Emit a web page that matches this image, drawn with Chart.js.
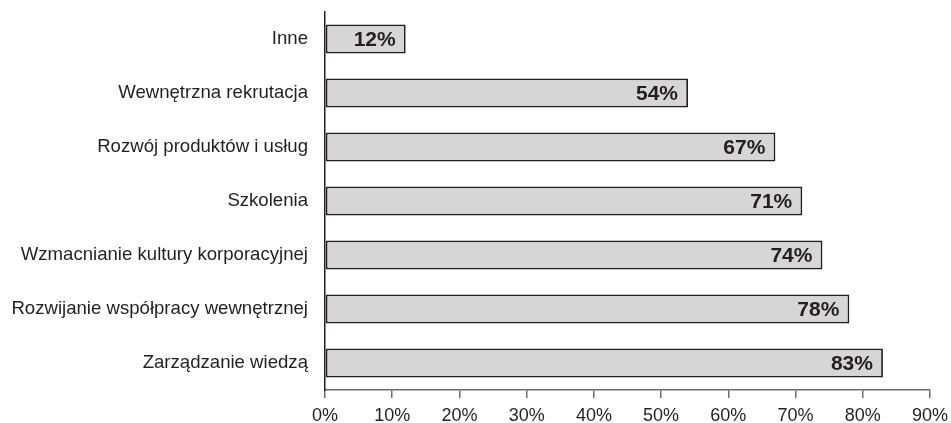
<!DOCTYPE html>
<html>
<head>
<meta charset="utf-8">
<script src="https://cdn.jsdelivr.net/npm/chart.js@4"></script>
<style>
  html, body { margin: 0; padding: 0; background: #fff; }
  #wrap { width: 951px; height: 423px; }
</style>
</head>
<body>
<div id="wrap"><canvas id="chart"></canvas></div>
<script>
const categories = [
  "Inne",
  "Wewnętrzna rekrutacja",
  "Rozwój produktów i usług",
  "Szkolenia",
  "Wzmacnianie kultury korporacyjnej",
  "Rozwijanie współpracy wewnętrznej",
  "Zarządzanie wiedzą"
];
const shares = [12, 54, 67, 71, 74, 78, 83];
const xTicks = [0, 10, 20, 30, 40, 50, 60, 70, 80, 90];

// percent labels at the inner end of each bar
const barLabels = {
  id: "barLabels",
  afterDatasetsDraw(chart) {
    const ctx = chart.ctx;
    const meta = chart.getDatasetMeta(0);
    ctx.save();
    ctx.font = "bold 21px 'Liberation Sans', Arial, sans-serif";
    ctx.fillStyle = "#231f20";
    ctx.textAlign = "right";
    ctx.textBaseline = "middle";
    meta.data.forEach((bar, i) => {
      ctx.fillText(shares[i] + "%", bar.x - 10, bar.y + 1);
    });
    ctx.restore();
  }
};

Chart.defaults.font.family = "'Liberation Sans', Arial, sans-serif";
Chart.defaults.font.size = 18;
Chart.defaults.color = "#231f20";

new Chart(document.getElementById("chart"), {
  type: "bar",
  data: {
    labels: categories,
    datasets: [{
      data: shares,
      backgroundColor: "#d6d6d6",
      borderColor: "#231f20",
      borderWidth: 1.8,
      borderSkipped: false,
      barPercentage: 0.54,
      categoryPercentage: 1
    }]
  },
  options: {
    indexAxis: "y",
    responsive: true,
    maintainAspectRatio: false,
    animation: false,
    layout: { padding: { top: 12, right: 21, bottom: 0, left: 0 } },
    plugins: {
      legend: { display: false },
      tooltip: { enabled: false }
    },
    scales: {
      x: {
        min: 0,
        max: 90,
        afterBuildTicks(scale) {
          scale.ticks = xTicks.map(v => ({ value: v }));
        },
        afterFit(scale) {
          scale.height = 33;
          scale.paddingLeft = 0;
          scale.paddingRight = 0;
        },
        ticks: {
          callback: v => v + "%",
          padding: 7,
          maxRotation: 0
        },
        grid: {
          drawOnChartArea: false,
          drawTicks: true,
          tickLength: 8,
          color: "#6d6d6d",
          lineWidth: 1.5
        },
        border: { color: "#6d6d6d", width: 1.5 }
      },
      y: {
        afterFit(scale) {
          scale.width = 325;
          scale.paddingTop = 0;
          scale.paddingBottom = 0;
        },
        ticks: { padding: 9, font: { size: 18.6 } },
        grid: { display: false },
        border: { color: "#231f20", width: 1.5 }
      }
    }
  },
  plugins: [barLabels]
});
</script>
</body>
</html>
